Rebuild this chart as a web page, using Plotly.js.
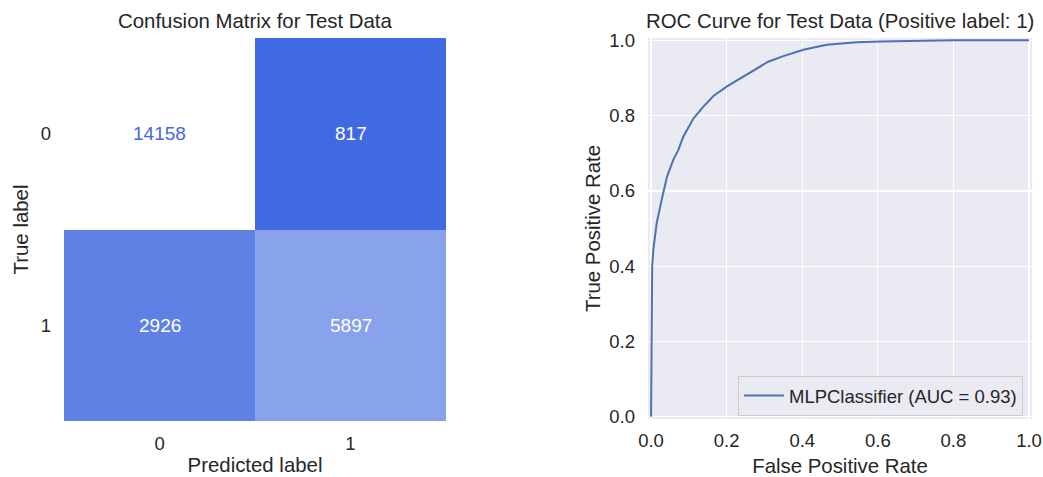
<!DOCTYPE html>
<html>
<head>
<meta charset="utf-8">
<script src="https://cdn.plot.ly/plotly-3.0.1.min.js"></script>
<style>
  html, body { margin: 0; padding: 0; background: #ffffff; }
  #chart { width: 1043px; height: 477px; }
</style>
</head>
<body>
<div id="chart"></div>
<script>
// Class labels shared by both axes of the confusion matrix
const classLabels = ['0', '1'];
// Rows = true label, columns = predicted label
const confusionCounts = [
  [14158, 817],
  [2926, 5897]
];

// ROC curve points for the test set
const fprValues = [0, 0.001, 0.003, 0.006, 0.015, 0.028, 0.042, 0.059, 0.072, 0.085, 0.112, 0.138, 0.165, 0.2, 0.235, 0.271, 0.31, 0.35, 0.403, 0.465, 0.544, 0.606, 0.7, 0.8, 1.0];
const tprValues = [0, 0.30, 0.40, 0.443, 0.514, 0.576, 0.637, 0.683, 0.708, 0.743, 0.792, 0.823, 0.852, 0.877, 0.898, 0.92, 0.943, 0.958, 0.975, 0.988, 0.995, 0.997, 0.999, 1.0, 1.0];
const aucScore = 0.93;
const xTicks = [0, 0.2, 0.4, 0.6, 0.8, 1.0];
const yTicks = [0, 0.2, 0.4, 0.6, 0.8, 1.0];

const FONT = 'Liberation Sans, Arial, Helvetica, sans-serif';
const TEXT = '#262626';
const LOW_COLOR = '#4169E1';
const HIGH_COLOR = '#FFFFFF';
const TICK_SIZE = 18.5;
const LABEL_SIZE = 20.4;
const TITLE_SIZE = 20.4;

const flat = confusionCounts.flat();
const zMin = Math.min(...flat);
const zMax = Math.max(...flat);
const threshold = (zMin + zMax) / 2;

const heatmap = {
  type: 'heatmap',
  x: classLabels,
  y: classLabels,
  z: confusionCounts,
  zmin: zMin,
  zmax: zMax,
  colorscale: [[0, LOW_COLOR], [1, HIGH_COLOR]],
  showscale: false,
  showlegend: false,
  hoverinfo: 'skip',
  xaxis: 'x',
  yaxis: 'y'
};

const roc = {
  type: 'scatter',
  mode: 'lines',
  x: fprValues,
  y: tprValues,
  name: 'MLPClassifier (AUC = ' + aucScore.toFixed(2) + ')',
  line: { color: '#4C72B0', width: 2 },
  xaxis: 'x2',
  yaxis: 'y2',
  hoverinfo: 'skip'
};

// Cell counts: light cells get the dark end colour, dark cells get white
const annotations = [];
confusionCounts.forEach((row, i) => {
  row.forEach((v, j) => {
    annotations.push({
      x: classLabels[j], y: classLabels[i], xref: 'x', yref: 'y',
      text: String(v), showarrow: false,
      font: { family: FONT, size: 19, color: v >= threshold ? LOW_COLOR : HIGH_COLOR }
    });
  });
});

// Panel titles
annotations.push({
  text: 'Confusion Matrix for Test Data', xref: 'paper', yref: 'paper',
  x: 0.2445, y: 0.956, xanchor: 'center', yanchor: 'middle', showarrow: false,
  font: { family: FONT, size: TITLE_SIZE, color: TEXT }
});
annotations.push({
  text: 'ROC Curve for Test Data (Positive label: 1)', xref: 'paper', yref: 'paper',
  x: 0.8054, y: 0.956, xanchor: 'center', yanchor: 'middle', showarrow: false,
  font: { family: FONT, size: TITLE_SIZE, color: TEXT }
});

const layout = {
  width: 1043,
  height: 477,
  margin: { l: 0, r: 0, t: 0, b: 0 },
  paper_bgcolor: '#FFFFFF',
  plot_bgcolor: '#EAEAF2',
  font: { family: FONT, size: TICK_SIZE, color: TEXT },
  showlegend: true,
  annotations: annotations,
  xaxis: {
    domain: [0.0614, 0.4276], anchor: 'y', type: 'category',
    showgrid: false, zeroline: false, showline: false, ticks: '',
    ticklabelstandoff: 9,
    tickfont: { family: FONT, size: TICK_SIZE, color: TEXT },
    title: { text: 'Predicted label', font: { family: FONT, size: LABEL_SIZE, color: TEXT }, standoff: 5 }
  },
  yaxis: {
    domain: [0.1174, 0.9203], anchor: 'x', type: 'category', autorange: 'reversed',
    showgrid: false, zeroline: false, showline: false, ticks: '',
    ticklabelstandoff: 12,
    tickfont: { family: FONT, size: TICK_SIZE, color: TEXT },
    title: { text: 'True label', font: { family: FONT, size: LABEL_SIZE, color: TEXT }, standoff: 6 }
  },
  xaxis2: {
    domain: [0.6213, 0.9895], anchor: 'y2', range: [-0.008, 1.008],
    tickvals: xTicks, ticktext: xTicks.map(v => v.toFixed(1)),
    showgrid: true, gridcolor: '#FFFFFF', gridwidth: 1.3,
    zeroline: false, showline: false, ticks: '',
    ticklabelstandoff: 9,
    tickfont: { family: FONT, size: TICK_SIZE, color: TEXT },
    title: { text: 'False Positive Rate', font: { family: FONT, size: LABEL_SIZE, color: TEXT }, standoff: 9 }
  },
  yaxis2: {
    domain: [0.1216, 0.9203], anchor: 'x2', range: [-0.006, 1.006],
    tickvals: yTicks, ticktext: yTicks.map(v => v.toFixed(1)),
    showgrid: true, gridcolor: '#FFFFFF', gridwidth: 1.3,
    zeroline: false, showline: false, ticks: '',
    ticklabelstandoff: 12,
    tickfont: { family: FONT, size: TICK_SIZE, color: TEXT },
    title: { text: 'True Positive Rate', font: { family: FONT, size: LABEL_SIZE, color: TEXT }, standoff: 3 }
  },
  legend: {
    x: 0.9808, xanchor: 'right', y: 0.128, yanchor: 'bottom',
    bgcolor: 'rgba(234,234,242,0.85)', bordercolor: '#CCCCCC', borderwidth: 1,
    itemwidth: 40,
    font: { family: FONT, size: 18.5, color: TEXT }
  }
};

Plotly.newPlot('chart', [heatmap, roc], layout, { displayModeBar: false, staticPlot: true });
</script>
</body>
</html>
